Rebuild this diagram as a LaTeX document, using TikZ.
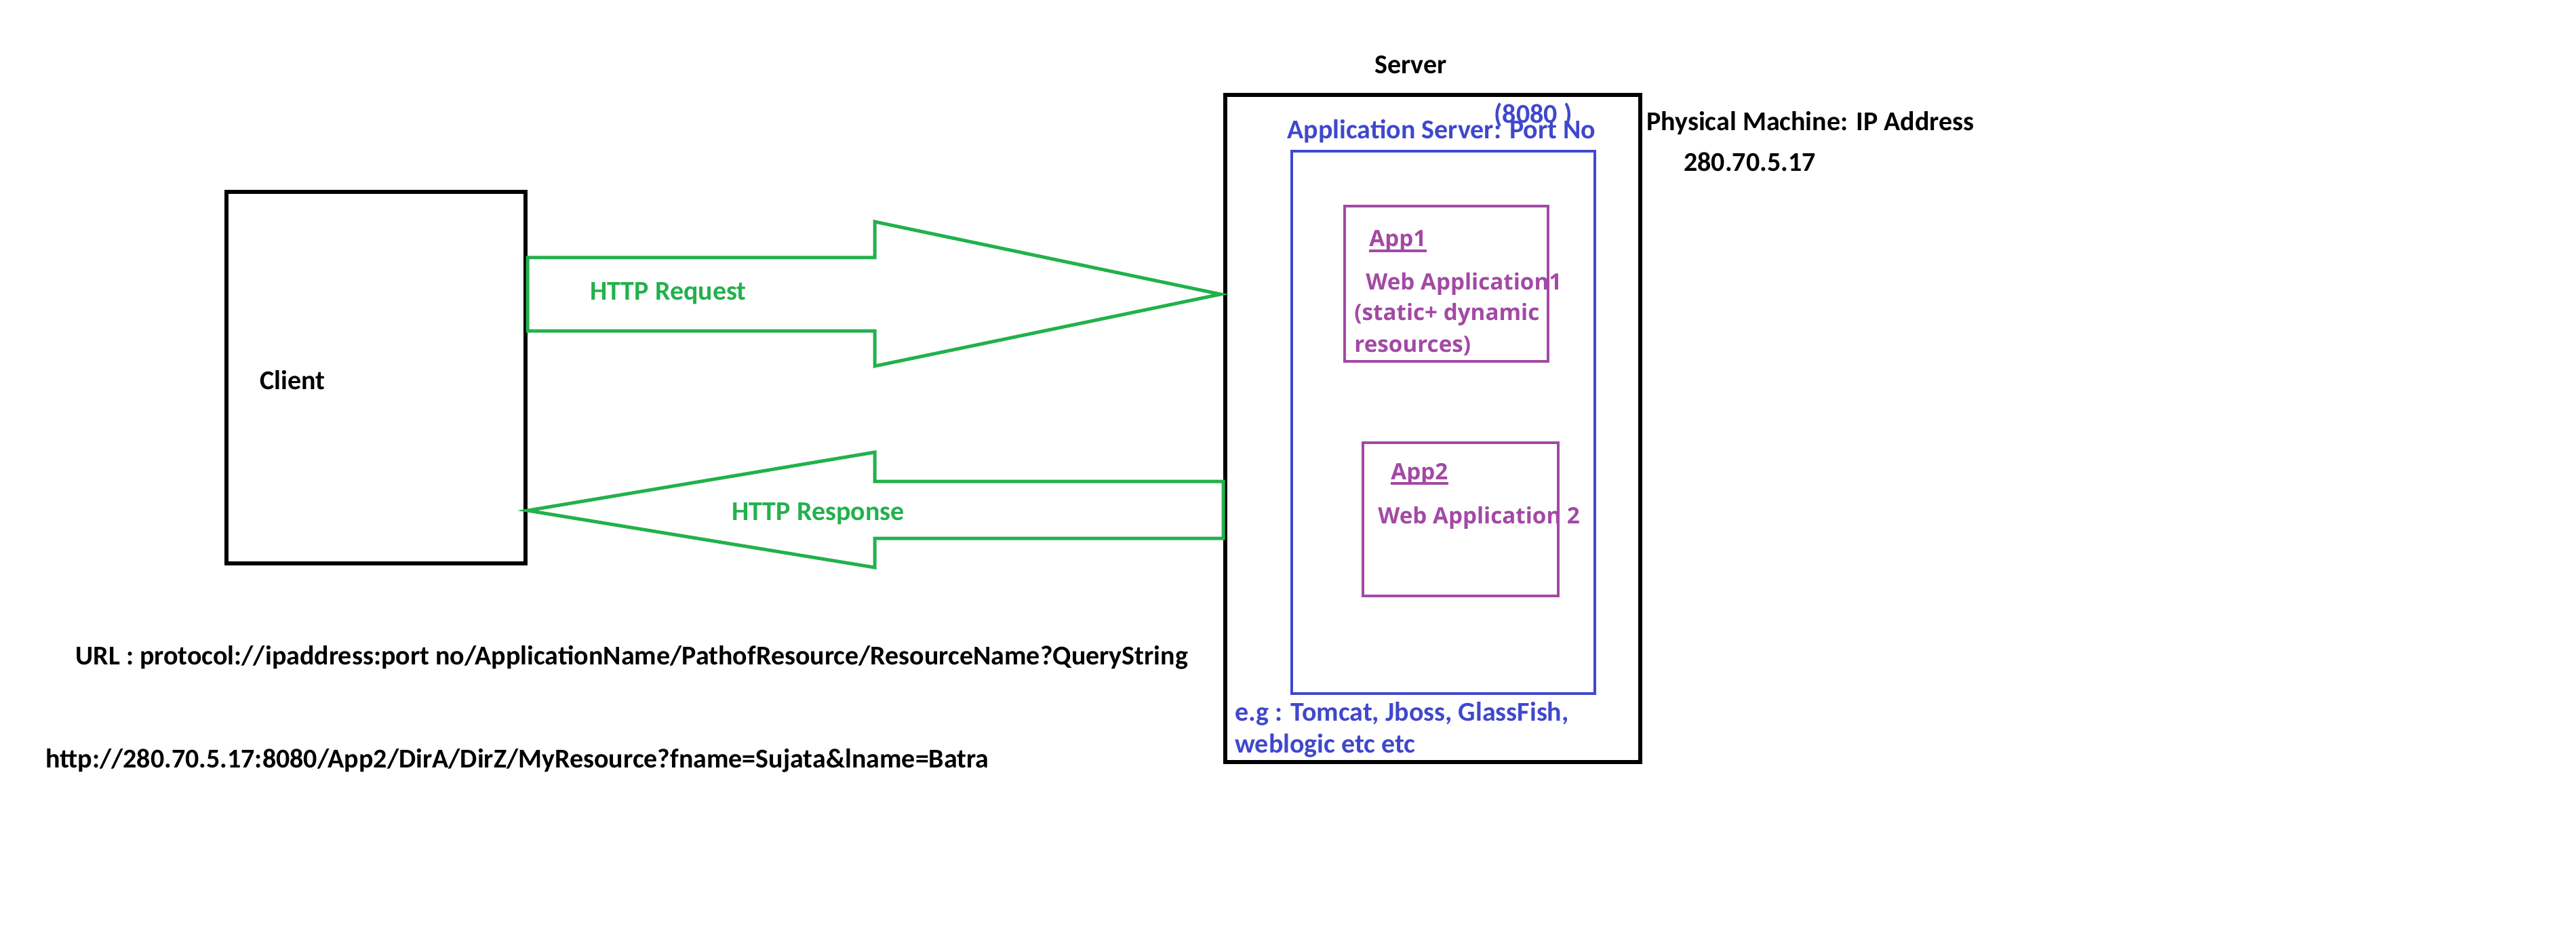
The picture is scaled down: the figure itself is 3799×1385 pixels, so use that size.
\documentclass[tikz,border=0pt]{standalone}
\usepackage{fontspec}
\setmainfont{Carlito}
\newfontfamily\osans{Open Sans}
\definecolor{pgreen}{HTML}{22B14C}
\definecolor{pblue}{HTML}{3F48CC}
\definecolor{ppurple}{HTML}{A349A4}
\begin{document}
\begin{tikzpicture}[x=0.5pt,y=-0.5pt,
  box/.style={draw, inner sep=0pt, anchor=center},
  txt/.style={inner sep=0pt, anchor=base west, font=\fontsize{20pt}{24pt}\selectfont\bfseries},
  ptxt/.style={inner sep=0pt, anchor=base west, text=ppurple, font=\osans\fontsize{16.6pt}{20pt}\selectfont\bfseries},
  blk/.style={line width=3pt, draw=black},
  blu/.style={line width=2.4pt, draw=pblue},
  pur/.style={line width=2.4pt, draw=ppurple},
  grn/.style={line width=2.5pt, draw=pgreen, line join=miter}]
\useasboundingbox[fill=white] (0,0) rectangle (3799,1385);

% boxes
\node[box, blk, minimum width=220.5pt, minimum height=274pt] (client) at (554.5,557) {};
\node[box, blk, minimum width=306pt, minimum height=492pt] (server) at (2113,632) {};
\node[box, blu, minimum width=223.5pt, minimum height=400pt] (appserver) at (2128.5,623) {};
\node[box, pur, minimum width=150pt, minimum height=114.5pt] (app1) at (2133,418.5) {};
\node[box, pur, minimum width=144pt, minimum height=113pt] (app2) at (2154,766) {};

% block arrows
\draw[grn] (client.east |- 0,380) -- (1290,380) -- (1290,327) -- (1800,434)
  -- (1290,540) -- (1290,488) -- (client.east |- 0,488) -- cycle;
\draw[grn] (client.east |- 0,753) -- (1290,667) -- (1290,710) -- (server.west |- 0,710)
  -- (server.west |- 0,794) -- (1290,794) -- (1290,837) -- cycle;

% texts
\node[txt] (serverlbl) at (2027,109) {Server};
\node[txt] (pm) at (2428,193) {Physical Machine: IP Address};
\node[txt] (ip) at (2483,253) {280.70.5.17};
\node[txt, text=pblue] (asl) at (1898,205) {Application Server: Port No};
\node[txt, text=pblue] (port) at (2203,182) {(8080 )};
\node[txt, text=pblue] (eg1) at (1821,1063) {e.g : Tomcat, Jboss, GlassFish,};
\node[txt, text=pblue] (eg2) at (1821,1110) {weblogic etc etc};
\node[txt] (clientlbl) at (383,574) {Client};
\node[txt, text=pgreen] (req) at (870,442) {HTTP Request};
\node[txt, text=pgreen] (resp) at (1079,767) {HTTP Response};
\node[txt] (url) at (111,980) {URL : protocol://ipaddress:port no/ApplicationName/PathofResource/ResourceName?QueryString};
\node[txt] (ex) at (67,1132) {http://280.70.5.17:8080/App2/DirA/DirZ/MyResource?fname=Sujata\&lname=Batra};

\node[ptxt] (a1) at (2019,364) {App1};
\draw[pur] ([yshift=-3pt]a1.base west) -- ([yshift=-3pt]a1.base east);
\node[ptxt] (wa1) at (2014,427) {Web Application1};
\node[ptxt] (st) at (1997,472) {(static+ dynamic};
\node[ptxt] (res) at (1997,519) {resources)};
\node[ptxt] (a2) at (2051,707) {App2};
\draw[pur] ([yshift=-3pt]a2.base west) -- ([yshift=-3pt]a2.base east);
\node[ptxt] (wa2) at (2032,772) {Web Application 2};
\end{tikzpicture}
\end{document}
